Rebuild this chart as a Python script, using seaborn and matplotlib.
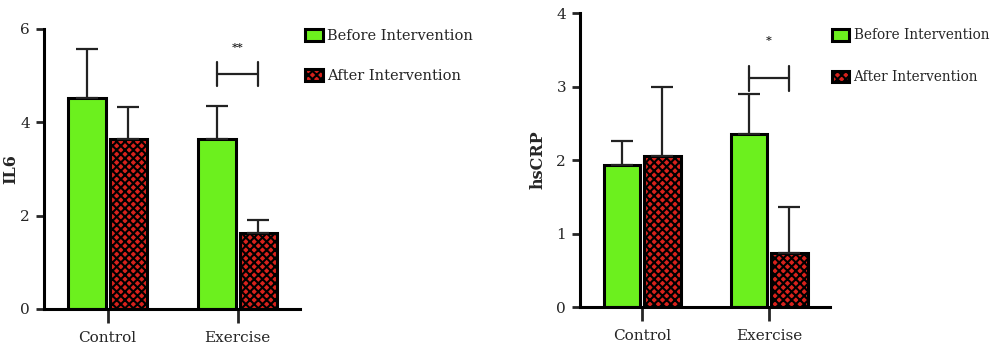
import numpy as np
import pandas as pd
import matplotlib
matplotlib.use("Agg")
import matplotlib.pyplot as plt
import seaborn as sns

groups = ["Control", "Exercise"]
times = ["Before Intervention", "After Intervention"]

il6_mean = {"Before Intervention": [4.53, 3.65], "After Intervention": [3.65, 1.62]}
il6_sd = {"Before Intervention": [1.03, 0.70], "After Intervention": [0.67, 0.29]}

crp_mean = {"Before Intervention": [1.93, 2.35], "After Intervention": [2.06, 0.74]}
crp_sd = {"Before Intervention": [0.33, 0.55], "After Intervention": [0.94, 0.62]}

# significance markers (group index, bracket level, star level, label)
il6_sig = (1, 5.03, 5.6, "**")
crp_sig = (1, 3.11, 3.62, "*")

green = "#6cf01e"
red = "#d8221c"

sns.set_style("white")
plt.rcParams["font.family"] = ["DejaVu Serif"]
plt.rcParams["hatch.linewidth"] = 1.5


def long_table(means):
    rows = []
    for t in times:
        for g, v in zip(groups, means[t]):
            rows.append({"group": g, "time": t, "value": v})
    return pd.DataFrame(rows)


def draw_panel(ax, means, sds, sig, ymax, ylabel, tick_step, bracket_half, label_x):
    df = long_table(means)
    sns.barplot(data=df, x="group", y="value", hue="time", order=groups,
                hue_order=times, palette=[green, red], width=0.64, gap=0.1,
                errorbar=None, edgecolor="black", linewidth=2.2,
                saturation=1, legend=False, ax=ax)
    for bar in ax.containers[1]:
        bar.set_hatch("xxxx")
    for cont, t in zip(ax.containers, times):
        xs = [b.get_x() + b.get_width() / 2 for b in cont]
        ys = [b.get_height() for b in cont]
        ax.errorbar(xs, ys, yerr=[np.zeros(len(ys)), sds[t]], fmt="none",
                    ecolor="#222222", elinewidth=1.6, capsize=8, capthick=1.6,
                    zorder=1)
    # significance bracket
    gi, level, star_y, label = sig
    x1 = ax.containers[0][gi].get_x() + ax.containers[0][gi].get_width() / 2
    x2 = ax.containers[1][gi].get_x() + ax.containers[1][gi].get_width() / 2
    ax.plot([x1, x2], [level, level], color="#222222", lw=1.6)
    for xx in (x1, x2):
        ax.plot([xx, xx], [level - bracket_half, level + bracket_half],
                color="#222222", lw=1.6)
    ax.text((x1 + x2) / 2, star_y, label, ha="center", va="center",
            fontsize=8, fontweight="bold", color="#222222")

    ax.set_ylim(0, ymax)
    ax.set_yticks(np.arange(0, ymax + 0.01, tick_step))
    ax.set_xlim(-0.49, 1.48)
    ax.set_xlabel("")
    ax.set_ylabel(ylabel, fontsize=11.5, fontweight="bold")
    ax.yaxis.set_label_coords(label_x, 0.5)
    sns.despine(ax=ax)
    for s in ("left", "bottom"):
        ax.spines[s].set_linewidth(2.2)
        ax.spines[s].set_color("black")
    ax.tick_params(axis="y", length=6, width=2, labelsize=11, pad=4,
                   direction="out", left=True)
    ax.tick_params(axis="x", length=10, width=2, labelsize=11, pad=6,
                   direction="out", bottom=True)


fig = plt.figure(figsize=(10, 3.53), dpi=100)
ax1 = fig.add_axes([0.044, 0.125, 0.256, 0.793])
ax2 = fig.add_axes([0.580, 0.130, 0.250, 0.833])

draw_panel(ax1, il6_mean, il6_sd, il6_sig, 6, "IL6", 2, 0.26, -0.095)
draw_panel(ax2, crp_mean, crp_sd, crp_sig, 4, "hsCRP", 1, 0.17, -0.135)

legend_specs = ((ax1, (0.299, 0.935), 10.5, 1.75), (ax2, (0.827, 0.935), 9.8, 2.05))
for ax, anchor, fs, spacing in legend_specs:
    handles = [cont[0] for cont in ax.containers[:2]]
    ax.legend(handles, times, loc="upper left", bbox_to_anchor=anchor,
              bbox_transform=fig.transFigure, frameon=False, fontsize=fs,
              handlelength=1.25, handleheight=0.95, handletextpad=0.3,
              labelspacing=spacing, borderaxespad=0)

fig.savefig("out.png", dpi=100)
